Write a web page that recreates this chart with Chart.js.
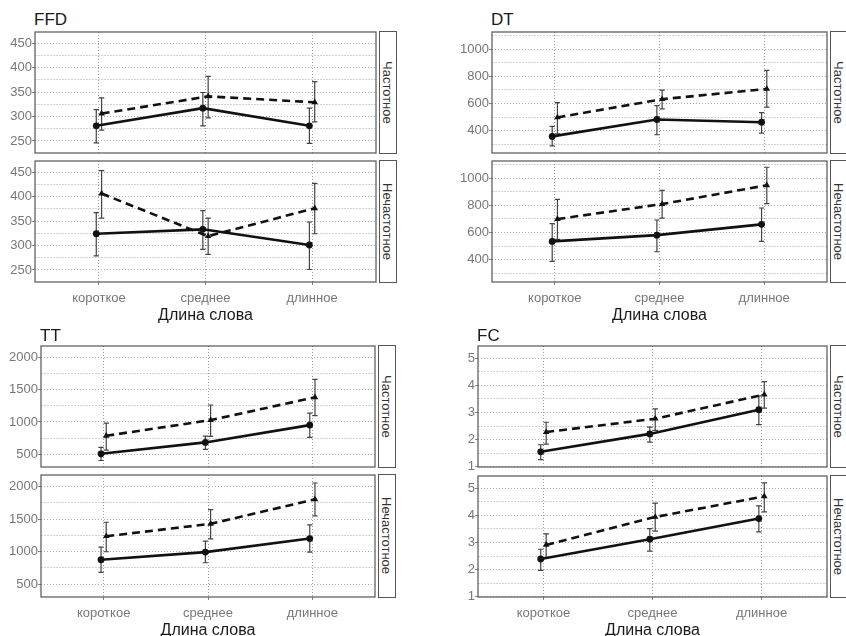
<!DOCTYPE html>
<html>
<head>
<meta charset="utf-8">
<script src="https://cdn.jsdelivr.net/npm/chart.js@4/dist/chart.umd.min.js"></script>
<style>
  html, body { margin: 0; padding: 0; background: #fff; }
  #fig { position: relative; width: 846px; height: 636px; overflow: hidden; background: #fff;
         font-family: 'Liberation Sans', Arial, sans-serif; }
  #fig canvas { position: absolute; }
  .ptitle { position: absolute; font-size: 17px; line-height: 17px; color: #1a1a1a; white-space: nowrap; }
  .strip { position: absolute; box-sizing: border-box; border: 1.2px solid #555; background: #fff;
           display: flex; align-items: center; justify-content: center; }
  .strip span { writing-mode: vertical-rl; font-size: 13px; color: #333; white-space: nowrap; }
</style>
</head>
<body>
<div id="fig"></div>
<script>
// категории оси X и фасеты
const CATEGORIES = ['короткое', 'среднее', 'длинное'];
const FACETS = ['Частотное', 'Нечастотное'];
const X_TITLE = 'Длина слова';

// FFD
const ffdTicks = [250, 300, 350, 400, 450];
const ffdFreqCircle = [281, 317, 281];
const ffdFreqCircleLo = [246, 281, 245];
const ffdFreqCircleHi = [314, 349, 317];
const ffdFreqTri = [306, 341, 329];
const ffdFreqTriLo = [272, 297, 289];
const ffdFreqTriHi = [338, 382, 371];
const ffdRareCircle = [324, 333, 301];
const ffdRareCircleLo = [279, 292, 251];
const ffdRareCircleHi = [367, 371, 348];
const ffdRareTri = [406, 319, 376];
const ffdRareTriLo = [356, 282, 324];
const ffdRareTriHi = [453, 356, 427];

// DT
const dtTicks = [400, 600, 800, 1000];
const dtFreqCircle = [359, 483, 463];
const dtFreqCircleLo = [290, 371, 383];
const dtFreqCircleHi = [432, 585, 534];
const dtFreqTri = [498, 632, 707];
const dtFreqTriLo = [378, 561, 573];
const dtFreqTriHi = [607, 698, 844];
const dtRareCircle = [535, 581, 660];
const dtRareCircleLo = [388, 459, 535];
const dtRareCircleHi = [665, 692, 780];
const dtRareTri = [699, 809, 947];
const dtRareTriLo = [550, 706, 812];
const dtRareTriHi = [844, 910, 1079];

// TT
const ttTicks = [500, 1000, 1500, 2000];
const ttFreqCircle = [505, 682, 951];
const ttFreqCircleLo = [401, 573, 759];
const ttFreqCircleHi = [604, 780, 1138];
const ttFreqTri = [785, 1029, 1382];
const ttFreqTriLo = [562, 775, 1097];
const ttFreqTriHi = [983, 1263, 1662];
const ttRareCircle = [874, 992, 1201];
const ttRareCircleLo = [679, 828, 992];
const ttRareCircleHi = [1068, 1160, 1411];
const ttRareTri = [1237, 1427, 1806];
const ttRareTriLo = [997, 1196, 1550];
const ttRareTriHi = [1452, 1647, 2057];

// FC
const fcTicks = [1, 2, 3, 4, 5];
const fcFreqCircle = [1.55, 2.21, 3.10];
const fcFreqCircleLo = [1.26, 1.91, 2.55];
const fcFreqCircleHi = [1.81, 2.46, 3.61];
const fcFreqTri = [2.28, 2.77, 3.66];
const fcFreqTriLo = [1.83, 2.34, 3.16];
const fcFreqTriHi = [2.64, 3.13, 4.14];
const fcRareCircle = [2.39, 3.12, 3.88];
const fcRareCircleLo = [1.97, 2.68, 3.39];
const fcRareCircleHi = [2.75, 3.51, 4.35];
const fcRareTri = [2.91, 3.94, 4.70];
const fcRareTriLo = [2.43, 3.42, 4.13];
const fcRareTriHi = [3.32, 4.45, 5.20];

// раскладка панелей (пиксели страницы)
const PANELS = [
  { title: 'FFD', left: 35, right: 380, f1: [32, 153], f2: [161, 282], titleTop: 11, yMin: 225.5, yMax: 472.5, ticks: ffdTicks,
    facets: [
      [[ffdFreqCircle, ffdFreqCircleLo, ffdFreqCircleHi], [ffdFreqTri, ffdFreqTriLo, ffdFreqTriHi]],
      [[ffdRareCircle, ffdRareCircleLo, ffdRareCircleHi], [ffdRareTri, ffdRareTriLo, ffdRareTriHi]]] },
  { title: 'DT', left: 492, right: 831, f1: [32, 153], f2: [161, 282], titleTop: 11, yMin: 237, yMax: 1125, ticks: dtTicks,
    facets: [
      [[dtFreqCircle, dtFreqCircleLo, dtFreqCircleHi], [dtFreqTri, dtFreqTriLo, dtFreqTriHi]],
      [[dtRareCircle, dtRareCircleLo, dtRareCircleHi], [dtRareTri, dtRareTriLo, dtRareTriHi]]] },
  { title: 'TT', left: 41, right: 379, f1: [346, 467], f2: [475, 597], titleTop: 327, yMin: 300, yMax: 2180, ticks: ttTicks,
    facets: [
      [[ttFreqCircle, ttFreqCircleLo, ttFreqCircleHi], [ttFreqTri, ttFreqTriLo, ttFreqTriHi]],
      [[ttRareCircle, ttRareCircleLo, ttRareCircleHi], [ttRareTri, ttRareTriLo, ttRareTriHi]]] },
  { title: 'FC', left: 478, right: 831, f1: [346, 467], f2: [476, 597], titleTop: 327, yMin: 0.99, yMax: 5.45, ticks: fcTicks,
    facets: [
      [[fcFreqCircle, fcFreqCircleLo, fcFreqCircleHi], [fcFreqTri, fcFreqTriLo, fcFreqTriHi]],
      [[fcRareCircle, fcRareCircleLo, fcRareCircleHi], [fcRareTri, fcRareTriLo, fcRareTriHi]]] }
];

const FONT = "'Liberation Sans', Arial, sans-serif";
const Y_W = 40;        // ширина оси Y
const PAD = 10;        // запас сверху/снизу канваса
const X_SPACE = 44;    // подписи оси X + заголовок
const STRIP_W = 16;
const DODGE = 0.025;
const CAP = 0.025;
const INK = '#111';

const fig = document.getElementById('fig');

const panelPlugin = {
  id: 'panelDecor',
  beforeDatasetsDraw(chart) {
    const { ctx, scales: { x, y } } = chart;
    ctx.save();
    ctx.strokeStyle = '#444';
    ctx.lineWidth = 1.2;
    chart.data.datasets.forEach(ds => {
      ds.data.forEach((p, i) => {
        const px = x.getPixelForValue(p.x);
        const lo = y.getPixelForValue(ds.errLo[i]);
        const hi = y.getPixelForValue(ds.errHi[i]);
        const c1 = x.getPixelForValue(p.x - CAP);
        const c2 = x.getPixelForValue(p.x + CAP);
        ctx.beginPath();
        ctx.moveTo(px, lo); ctx.lineTo(px, hi);
        ctx.moveTo(c1, lo); ctx.lineTo(c2, lo);
        ctx.moveTo(c1, hi); ctx.lineTo(c2, hi);
        ctx.stroke();
      });
    });
    ctx.restore();
  },
  afterDraw(chart) {
    const { ctx, chartArea: a } = chart;
    ctx.save();
    ctx.strokeStyle = '#555';
    ctx.lineWidth = 1.2;
    ctx.strokeRect(a.left, a.top, a.right - a.left, a.bottom - a.top);
    ctx.restore();
  }
};

function addDiv(cls, css, html) {
  const d = document.createElement('div');
  d.className = cls;
  Object.assign(d.style, css);
  d.innerHTML = html;
  fig.appendChild(d);
  return d;
}

function makeFacet(panel, facetIdx) {
  const isBottom = facetIdx === 1;
  const [fTop, fBot] = isBottom ? panel.f2 : panel.f1;
  const width = panel.right - panel.left + Y_W;
  const height = (fBot - fTop) + PAD + (isBottom ? X_SPACE : PAD);

  const canvas = document.createElement('canvas');
  canvas.width = width;
  canvas.height = height;
  canvas.style.left = (panel.left - Y_W) + 'px';
  canvas.style.top = (fTop - PAD) + 'px';
  canvas.style.width = width + 'px';
  canvas.style.height = height + 'px';
  fig.appendChild(canvas);

  const step = panel.ticks[1] - panel.ticks[0];
  const minor = panel.ticks.map(v => v - step / 2)
    .concat([panel.ticks[panel.ticks.length - 1] + step / 2])
    .filter(v => v >= panel.yMin && v <= panel.yMax);

  const [circ, tri] = panel.facets[facetIdx];
  const datasets = [
    {
      data: circ[0].map((v, i) => ({ x: i + 1 - DODGE, y: v })),
      errLo: circ[1], errHi: circ[2],
      borderColor: INK, backgroundColor: INK, borderWidth: 2.6,
      pointStyle: 'circle', pointRadius: 3.4, pointBorderWidth: 0, tension: 0,
      xAxisID: 'x', yAxisID: 'y'
    },
    {
      data: tri[0].map((v, i) => ({ x: i + 1 + DODGE, y: v })),
      errLo: tri[1], errHi: tri[2],
      borderColor: INK, backgroundColor: INK, borderWidth: 2.6, borderDash: [8, 5],
      pointStyle: 'triangle', pointRadius: 3.8, pointBorderWidth: 0, tension: 0,
      xAxisID: 'x', yAxisID: 'y'
    }
  ];

  new Chart(canvas, {
    type: 'line',
    data: { datasets },
    options: {
      responsive: false, animation: false, maintainAspectRatio: false,
      devicePixelRatio: 1,
      layout: { padding: { top: PAD, bottom: isBottom ? 0 : PAD, left: 0, right: 0 } },
      plugins: { legend: { display: false }, tooltip: { enabled: false } },
      scales: {
        x: {
          type: 'linear', min: 0.4, max: 3.6,
          afterBuildTicks: s => { s.ticks = CATEGORIES.map((c, i) => ({ value: i + 1 })); },
          afterFit: s => { s.height = isBottom ? X_SPACE : 0; },
          grid: { color: '#9c9c9c', drawTicks: isBottom, tickLength: 3, tickColor: '#888' },
          border: { display: false, dash: [1, 2] },
          ticks: {
            display: isBottom, autoSkip: false, maxRotation: 0, padding: 6,
            color: '#777', font: { family: FONT, size: 13 },
            callback: v => CATEGORIES[Math.round(v) - 1]
          },
          title: {
            display: isBottom, text: X_TITLE, color: '#1a1a1a',
            font: { family: FONT, size: 16 }, padding: { top: 0, bottom: 1 }
          }
        },
        y: {
          type: 'linear', position: 'left', min: panel.yMin, max: panel.yMax,
          afterBuildTicks: s => { s.ticks = panel.ticks.map(v => ({ value: v })); },
          afterFit: s => { s.width = Y_W; },
          grid: { color: '#a8a8a8', tickLength: 3, tickColor: '#888' },
          border: { display: false, dash: [1, 2] },
          ticks: {
            autoSkip: false, padding: 0, color: '#777',
            font: { family: FONT, size: 13 },
            callback: v => String(v)
          }
        },
        yMinor: {
          type: 'linear', axis: 'y', position: 'left', min: panel.yMin, max: panel.yMax,
          afterBuildTicks: s => { s.ticks = minor.map(v => ({ value: v })); },
          afterFit: s => { s.width = 0; },
          grid: { color: '#d2d2d2', drawTicks: false },
          border: { display: false, dash: [2, 1] },
          ticks: { display: false }
        }
      }
    },
    plugins: [panelPlugin]
  });

  addDiv('strip', {
    left: (panel.right - 0.6) + 'px', top: (fTop - 0.6) + 'px',
    width: (STRIP_W + 1.2) + 'px', height: (fBot - fTop + 1.2) + 'px'
  }, '<span>' + FACETS[facetIdx] + '</span>');
}

PANELS.forEach(panel => {
  addDiv('ptitle', { left: (panel.left - 1) + 'px', top: panel.titleTop + 'px' }, panel.title);
  makeFacet(panel, 0);
  makeFacet(panel, 1);
});
</script>
</body>
</html>
